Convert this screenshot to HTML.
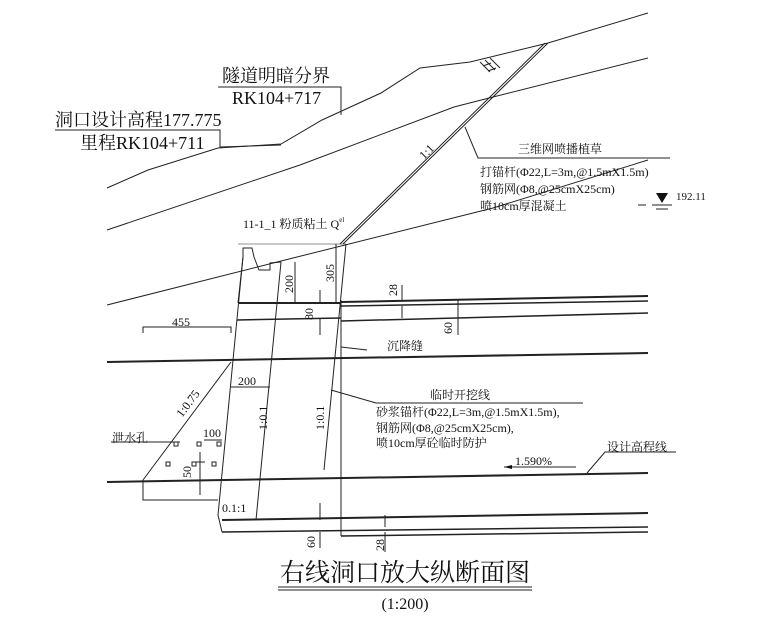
<!DOCTYPE html>
<html><head><meta charset="utf-8"><style>
html,body{margin:0;padding:0;background:#fff;}
svg{display:block;}
text{font-family:"Liberation Serif","Noto Serif CJK SC",serif;fill:#111;}
</style></head><body>
<svg width="780" height="624" viewBox="0 0 780 624" xmlns="http://www.w3.org/2000/svg">
<g fill="none" stroke="#222" stroke-width="1">
<!-- ground lines -->
<polyline points="107,188 148,170 218,148 281,144 322,120 381,93 420,68 470,62 548,43 648,13"/>
<polyline points="107,230 300,165 454,107 493,97 648,58"/>
<polyline points="107,305 285,260 493,208 648,160"/>
<!-- 1:1 slope double -->
<line x1="548" y1="43" x2="343" y2="244"/>
<line x1="545" y1="43" x2="340" y2="244"/>
<!-- hatch -->
<path d="M480,62 l10,10 M485,60 l10,10 M490,58 l10,10 M483,66 l8,-3 M488,71 l8,-3"/>
<!-- leader 三维网 -->
<polyline points="465,127 478,158 670,158"/>
<!-- label lines -->
<polyline points="218,87 341,87 341,115"/>
<polyline points="55,130 220,130 220,147 281,145"/>
<!-- portal -->
<polyline points="238,303 243,257 243,248 252,248 254,257 259,270 270,270 270,263 281,262"/>
<line x1="281" y1="262" x2="256" y2="520"/>
<line x1="243" y1="257" x2="218" y2="515"/>
<line x1="218" y1="515" x2="222" y2="532"/>
<line x1="346" y1="244" x2="324" y2="470"/>
<line x1="341" y1="300" x2="341" y2="536"/>
<line x1="238" y1="244" x2="346" y2="244" stroke-width="0.6"/>
<!-- tracks upper -->
<line x1="238" y1="303" x2="341" y2="303" stroke-width="2"/>
<line x1="341" y1="302" x2="648" y2="296" stroke-width="2"/>
<line x1="341" y1="306" x2="648" y2="301" stroke-width="1.5"/>
<line x1="237" y1="320" x2="341" y2="318" stroke-width="1.5"/>
<line x1="341" y1="321" x2="648" y2="313" stroke-width="1.5"/>
<line x1="107" y1="362" x2="648" y2="353" stroke-width="2"/>
<line x1="107" y1="482" x2="648" y2="473" stroke-width="2"/>
<line x1="222" y1="520" x2="648" y2="513" stroke-width="2"/>
<line x1="222" y1="532" x2="648" y2="527" stroke-width="1.5"/>
<line x1="341" y1="536" x2="648" y2="532" stroke-width="1.5"/>
<!-- left slope & box -->
<line x1="143" y1="480" x2="231" y2="362"/>
<polyline points="143,480 143,500 218,500"/>
<!-- dims -->
<polyline points="143,333 143,327 231,327 231,333"/>
<line x1="231" y1="387" x2="270" y2="387"/>
<line x1="200" y1="452" x2="200" y2="495"/>
<line x1="195" y1="462" x2="205" y2="462"/>
<line x1="204" y1="440" x2="222" y2="440"/>
<line x1="111" y1="442" x2="180" y2="442"/>
<line x1="295" y1="262" x2="295" y2="303"/>
<line x1="336" y1="244" x2="336" y2="303"/>
<line x1="320" y1="290" x2="320" y2="303"/>
<line x1="402" y1="285" x2="402" y2="300"/>
<line x1="402" y1="306" x2="402" y2="318"/>
<line x1="458" y1="300" x2="458" y2="335"/>
<line x1="320" y1="318" x2="320" y2="335"/>
<line x1="320" y1="503" x2="320" y2="520"/>
<line x1="320" y1="532" x2="320" y2="548"/>
<line x1="385" y1="515" x2="385" y2="527"/>
<line x1="385" y1="532" x2="385" y2="552"/>
<!-- leaders -->
<polyline points="341,347 367,350"/>
<polyline points="331,390 376,403 583,403"/>
<polyline points="587,473 605,452 676,452"/>
<line x1="504" y1="467" x2="576" y2="467"/>
<!-- squares -->
<rect x="174" y="442" width="4" height="4"/><rect x="197" y="442" width="4" height="4"/><rect x="217" y="442" width="4" height="4"/>
<rect x="166" y="462" width="4" height="4"/><rect x="192" y="462" width="4" height="4"/><rect x="212" y="462" width="4" height="4"/>
<!-- water mark -->
<line x1="638" y1="205" x2="646" y2="205"/>
<line x1="652" y1="205" x2="672" y2="205"/>
<line x1="656" y1="209" x2="668" y2="209"/>
<line x1="278" y1="587" x2="532" y2="587"/>
<line x1="278" y1="590" x2="532" y2="590"/>
</g>
<polygon points="656,193 668,193 662,203" fill="#111"/>
<polygon points="504,467 512,465 512,469" fill="#111"/>
<g font-size="18">
<text x="222" y="82">隧道明暗分界</text>
<text x="232" y="104">RK104+717</text>
<text x="55" y="126">洞口设计高程177.775</text>
<text x="80" y="149">里程RK104+711</text>
</g>
<g font-size="12">
<text x="518" y="153">三维网喷播植草</text>
<text x="480" y="176">打锚杆(Φ22,L=3m,@1.5mX1.5m)</text>
<text x="480" y="193">钢筋网(Φ8,@25cmX25cm)</text>
<text x="480" y="210">喷10cm厚混凝土</text>
<text x="676" y="200" font-family="Liberation Sans" font-size="11">192.11</text>
<text x="243" y="228">11-1_1 粉质粘土 Q<tspan font-size="7" dy="-6">el</tspan></text>
<text x="387" y="350">沉降缝</text>
<text x="430" y="399">临时开挖线</text>
<text x="376" y="416">砂浆锚杆(Φ22,L=3m,@1.5mX1.5m),</text>
<text x="376" y="432">钢筋网(Φ8,@25cmX25cm),</text>
<text x="376" y="447">喷10cm厚砼临时防护</text>
<text x="607" y="451">设计高程线</text>
<text x="515" y="465">1.590%</text>
<text x="112" y="442">泄水孔</text>
<text x="203" y="437">100</text>
<text x="172" y="326">455</text>
<text x="238" y="385">200</text>
<text x="222" y="512">0.1:1</text>
<text transform="translate(424,160) rotate(-45)">1:1</text>
<text transform="translate(182,418) rotate(-53)">1:0.75</text>
<text transform="translate(267,430) rotate(-90)">1:0.1</text>
<text transform="translate(324,430) rotate(-90)">1:0.1</text>
<text transform="translate(191,478) rotate(-90)">50</text>
<text transform="translate(293,293) rotate(-90)">200</text>
<text transform="translate(334,282) rotate(-90)">305</text>
<text transform="translate(397,296) rotate(-90)">28</text>
<text transform="translate(313,320) rotate(-90)">80</text>
<text transform="translate(452,334) rotate(-90)">60</text>
<text transform="translate(315,548) rotate(-90)">60</text>
<text transform="translate(384,551) rotate(-90)">28</text>
</g>
<text x="405" y="581" font-size="25" text-anchor="middle">右线洞口放大纵断面图</text>
<text x="405" y="609" font-size="16" text-anchor="middle">(1:200)</text>
</svg>
</body></html>
